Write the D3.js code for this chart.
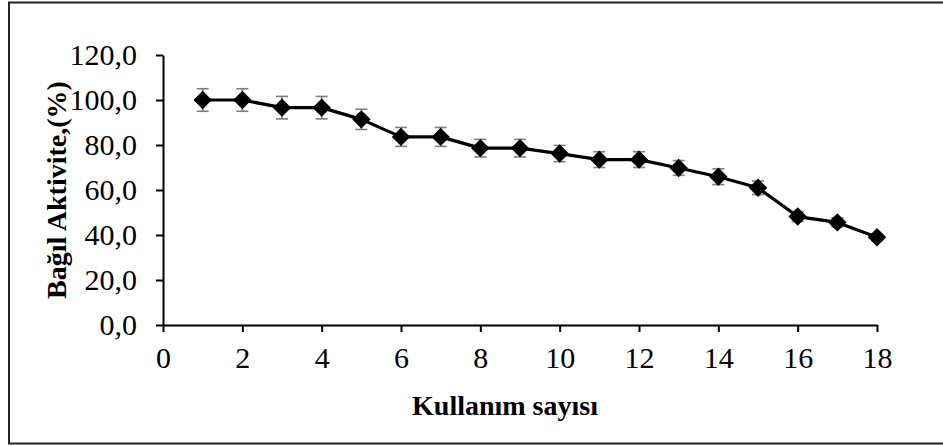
<!DOCTYPE html>
<html>
<head>
<meta charset="utf-8">
<script src="https://cdn.jsdelivr.net/npm/d3@7"></script>
<style>
  html, body { margin: 0; padding: 0; background: #fff; }
  svg { display: block; }
  text { font-family: "Liberation Serif", "Times New Roman", serif; fill: #000; }
</style>
</head>
<body>
<svg id="chart" width="943" height="446"></svg>
<script>
// Reuse count (x) vs. relative activity in % (y), with standard deviation
const useCounts = [1, 2, 3, 4, 5, 6, 7, 8, 9, 10, 11, 12, 13, 14, 15, 16, 17, 18];
const activity  = [100, 100, 96.6, 96.6, 91.4, 83.6, 83.6, 78.6, 78.6, 76.2, 73.5, 73.5, 69.8, 65.9, 61.0, 48.2, 45.6, 39.0];
const errors    = [5.0, 5.0, 5.0, 5.0, 4.5, 4.2, 4.2, 3.9, 3.9, 3.6, 3.5, 3.5, 3.3, 3.5, 3.0, 2.2, 2.0, 1.5];
const xTicks = [0, 2, 4, 6, 8, 10, 12, 14, 16, 18];
const yTicks = [0, 20, 40, 60, 80, 100, 120];
const xTitle = "Kullanım sayısı";
const yTitle = "Bağıl Aktivite,(%)";

const svg = d3.select("#chart");

// outer frame
svg.append("rect")
  .attr("x", 9).attr("y", 2.5)
  .attr("width", 945).attr("height", 441)
  .attr("fill", "none").attr("stroke", "#222").attr("stroke-width", 2);

const x = d3.scaleLinear().domain([0, 18]).range([163, 877]);
const y = d3.scaleLinear().domain([0, 120]).range([325, 55]);

const fmt = d => d.toFixed(1).replace(".", ",");

// y axis
const gy = svg.append("g").attr("transform", `translate(${x(0)},0)`)
  .call(d3.axisLeft(y).tickValues(yTicks).tickFormat(fmt).tickSize(7).tickSizeOuter(0).tickPadding(19));
gy.select(".domain").attr("stroke", "#000").attr("stroke-width", 2);
gy.selectAll(".tick line").attr("stroke", "#000").attr("stroke-width", 2);
gy.selectAll(".tick text").attr("font-size", 30).attr("font-family", "Liberation Serif").attr("dy", "0.33em");

// x axis
const gx = svg.append("g").attr("transform", `translate(0,${y(0)})`)
  .call(d3.axisBottom(x).tickValues(xTicks).tickFormat(d3.format("d")).tickSize(7).tickSizeOuter(0).tickPadding(15));
gx.select(".domain").attr("stroke", "#000").attr("stroke-width", 2);
gx.selectAll(".tick line").attr("stroke", "#000").attr("stroke-width", 2);
gx.selectAll(".tick text").attr("font-size", 30).attr("font-family", "Liberation Serif");

// axis titles
svg.append("text")
  .attr("x", 505).attr("y", 415)
  .attr("text-anchor", "middle")
  .attr("font-size", 28).attr("font-weight", "bold")
  .text(xTitle);

svg.append("text")
  .attr("transform", `translate(66,${(y(0) + y(120)) / 2}) rotate(-90)`)
  .attr("text-anchor", "middle")
  .attr("font-size", 28).attr("font-weight", "bold")
  .text(yTitle);

const data = useCounts.map((c, i) => ({ c, v: activity[i], e: errors[i] }));

// error bars
const eb = svg.append("g").attr("stroke", "#7f7f7f").attr("stroke-width", 1.6);
data.forEach(d => {
  const cx = x(d.c);
  eb.append("line").attr("x1", cx).attr("x2", cx).attr("y1", y(d.v + d.e)).attr("y2", y(d.v - d.e));
  eb.append("line").attr("x1", cx - 6).attr("x2", cx + 6).attr("y1", y(d.v + d.e)).attr("y2", y(d.v + d.e));
  eb.append("line").attr("x1", cx - 6).attr("x2", cx + 6).attr("y1", y(d.v - d.e)).attr("y2", y(d.v - d.e));
});

// connecting line
svg.append("path")
  .datum(data)
  .attr("fill", "none").attr("stroke", "#000").attr("stroke-width", 3.2)
  .attr("stroke-linejoin", "round")
  .attr("d", d3.line().x(d => x(d.c)).y(d => y(d.v)));

// diamond markers
const diamond = d3.symbol().type(d3.symbolSquare).size(170);
svg.append("g").selectAll("path")
  .data(data)
  .join("path")
  .attr("d", diamond)
  .attr("transform", d => `translate(${x(d.c)},${y(d.v)}) rotate(45)`)
  .attr("fill", "#000");
</script>
</body>
</html>
